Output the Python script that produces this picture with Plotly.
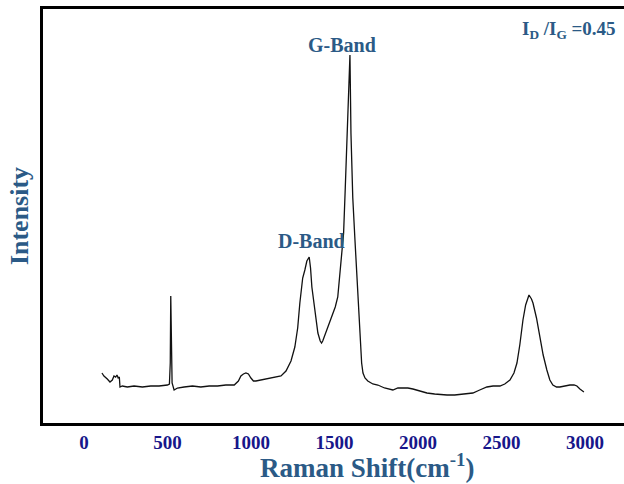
import plotly.graph_objects as go

# Raman spectrum (arbitrary intensity units)
raman_shift = [108, 120, 140, 156, 170, 180, 190, 198, 205, 212, 216, 230, 260, 300, 350, 400, 450, 500,
               512, 517, 520, 523, 528, 540, 560, 600, 650, 700, 750, 800, 850, 900, 925, 940, 955, 970,
               985, 1000, 1015, 1030, 1060, 1100, 1150, 1180, 1210, 1240, 1263, 1280, 1293, 1310, 1323,
               1335, 1349, 1357, 1365, 1383, 1401, 1415, 1423, 1430, 1455, 1480, 1491, 1505, 1520, 1533,
               1545, 1555, 1565, 1575, 1585, 1593, 1599, 1610, 1623, 1640, 1653, 1663, 1671, 1683, 1700,
               1730, 1760, 1800, 1850, 1880, 1910, 1940, 1970, 2010, 2054, 2100, 2150, 2174, 2220, 2270,
               2329, 2370, 2413, 2450, 2491, 2520, 2551, 2575, 2593, 2610, 2629, 2645, 2665, 2680, 2689,
               2710, 2731, 2750, 2772, 2790, 2808, 2830, 2850, 2880, 2910, 2935, 2952, 2970, 2994]
intensity = [50, 47, 44, 41, 43, 47, 46, 48, 45, 46, 36, 37, 36, 37, 36, 37, 37, 38,
             39, 60, 127, 60, 40, 33, 35, 36, 37, 36, 37, 37, 38, 38, 42, 47, 49, 50,
             49, 45, 42, 42, 43, 44, 46, 47, 52, 62, 76, 95, 120, 145, 153,
             162, 166, 155, 136, 110, 90, 82, 80, 82, 93, 105, 110, 116, 126, 150,
             170, 190, 235, 290, 335, 368, 290, 225, 183, 125, 83, 60, 50, 45, 42,
             39, 38, 35, 33, 35, 35, 35, 34, 32, 30, 29, 28, 28, 28, 29,
             30, 33, 36, 37, 37, 39, 43, 50, 60, 78, 103, 118, 128, 124, 120,
             105, 86, 68, 53, 43, 38, 36, 36, 37, 38, 38, 37, 34, 31]

x_ticks = [0, 500, 1000, 1500, 2000, 2500, 3000]

label_color = "#2b5a86"
tick_color = "#17168a"
serif = "Liberation Serif, Times New Roman, serif"

fig = go.Figure()
fig.add_trace(go.Scatter(x=raman_shift, y=intensity, mode="lines",
                         line=dict(color="#111111", width=1.3), showlegend=False))

fig.add_annotation(x=1545, y=378, text="<b>G-Band</b>", showarrow=False,
                   font=dict(family=serif, size=20, color=label_color))
fig.add_annotation(x=1360, y=182, text="<b>D-Band</b>", showarrow=False,
                   font=dict(family=serif, size=20, color=label_color))
fig.add_annotation(x=2905, y=393, text="<b>I<sub>D</sub> /I<sub>G</sub> =0.45</b>", showarrow=False,
                   font=dict(family=serif, size=19, color=label_color))
# x-axis title (centred on the reference's wider, cropped plot area)
fig.add_annotation(xref="paper", yref="paper", x=0.559, y=-0.103, xanchor="center", yanchor="middle",
                   text="<b>Raman Shift(cm<sup>-1</sup>)</b>", showarrow=False,
                   font=dict(family=serif, size=27, color=label_color))

fig.update_layout(
    width=624, height=484,
    margin=dict(l=43, r=0, t=9, b=61),
    paper_bgcolor="white", plot_bgcolor="white",
    xaxis=dict(range=[-245, 3234], tickvals=x_ticks, ticktext=["<b>%d</b>" % v for v in x_ticks],
               showgrid=False, zeroline=False, showline=True, mirror=True,
               linecolor="black", linewidth=3, ticks="",
               tickfont=dict(family=serif, size=19, color=tick_color)),
    yaxis=dict(range=[0, 414], showgrid=False, zeroline=False, showline=True,
               linecolor="black", linewidth=3, ticks="", showticklabels=False,
               title=dict(text="<b>Intensity</b>", standoff=4,
                          font=dict(family=serif, size=26, color=label_color))),
)

fig.write_html("out.html")
